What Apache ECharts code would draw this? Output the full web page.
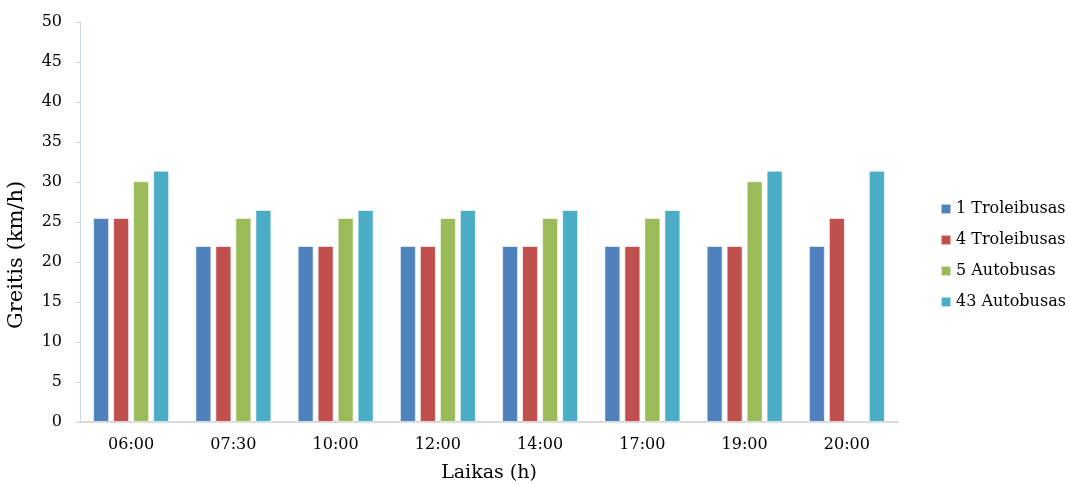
<!DOCTYPE html>
<html>
<head>
<meta charset="utf-8">
<script src="https://cdn.jsdelivr.net/npm/echarts@6/dist/echarts.min.js"></script>
<style>
  html, body { margin: 0; padding: 0; background: #fff; }
  #chart { width: 1069px; height: 484px; }
</style>
</head>
<body>
<div id="chart"></div>
<script>
// Time of day (x axis categories)
const times = ['06:00', '07:30', '10:00', '12:00', '14:00', '17:00', '19:00', '20:00'];

// Average speed, km/h, per route
const trolley1 = [25.5, 22.0, 22.0, 22.0, 22.0, 22.0, 22.0, 22.0];
const trolley4 = [25.5, 22.0, 22.0, 22.0, 22.0, 22.0, 22.0, 25.5];
const bus5     = [30.1, 25.5, 25.5, 25.5, 25.5, 25.5, 30.1, null];
const bus43    = [31.4, 26.5, 26.5, 26.5, 26.5, 26.5, 31.4, 31.4];

const seriesNames = ['1 Troleibusas', '4 Troleibusas', '5 Autobusas', '43 Autobusas'];
const seriesData = [trolley1, trolley4, bus5, bus43];
const colors = ['#4f81bd', '#c0504d', '#9bbb59', '#4bacc6'];

const font = '"DejaVu Serif", "Liberation Serif", serif';

const chart = echarts.init(document.getElementById('chart'));
chart.setOption({
  animation: false,
  textStyle: { fontFamily: font, color: '#000' },
  grid: { left: 80, right: 171, top: 22, bottom: 62, outerBoundsMode: 'none', containLabel: false },
  legend: {
    orient: 'vertical',
    left: 935,
    top: 196,
    itemWidth: 10,
    itemHeight: 10,
    itemGap: 15,
    itemTextGap: 4,
    icon: 'rect',
    textStyle: { fontFamily: font, fontSize: 16, color: '#000' },
    data: seriesNames
  },
  xAxis: {
    type: 'category',
    data: times,
    name: 'Laikas (h)',
    nameLocation: 'middle',
    nameGap: 42,
    nameTextStyle: { fontFamily: font, fontSize: 19, color: '#000' },
    axisLine: { lineStyle: { color: '#d9d9d9', width: 2 } },
    axisTick: { show: false },
    axisLabel: { fontFamily: font, fontSize: 16, color: '#000', margin: 15 }
  },
  yAxis: {
    type: 'value',
    min: 0,
    max: 50,
    interval: 5,
    name: 'Greitis (km/h)',
    nameLocation: 'middle',
    nameGap: 53,
    nameRotate: 90,
    nameTextStyle: { fontFamily: font, fontSize: 21, color: '#000', padding: [0, 66, 0, 0] },
    axisLine: { show: true, lineStyle: { color: '#c6d9ee', width: 1 } },
    axisTick: { show: true, length: 5, lineStyle: { color: '#c6d9ee' } },
    splitLine: { show: false },
    axisLabel: { fontFamily: font, fontSize: 16, color: '#000', margin: 18 }
  },
  series: seriesData.map((d, i) => ({
    name: seriesNames[i],
    type: 'bar',
    data: d,
    barWidth: 16,
    barGap: '25%',
    itemStyle: { color: colors[i], borderColor: 'rgba(255,255,255,0.6)', borderWidth: 1 }
  }))
});
</script>
</body>
</html>
